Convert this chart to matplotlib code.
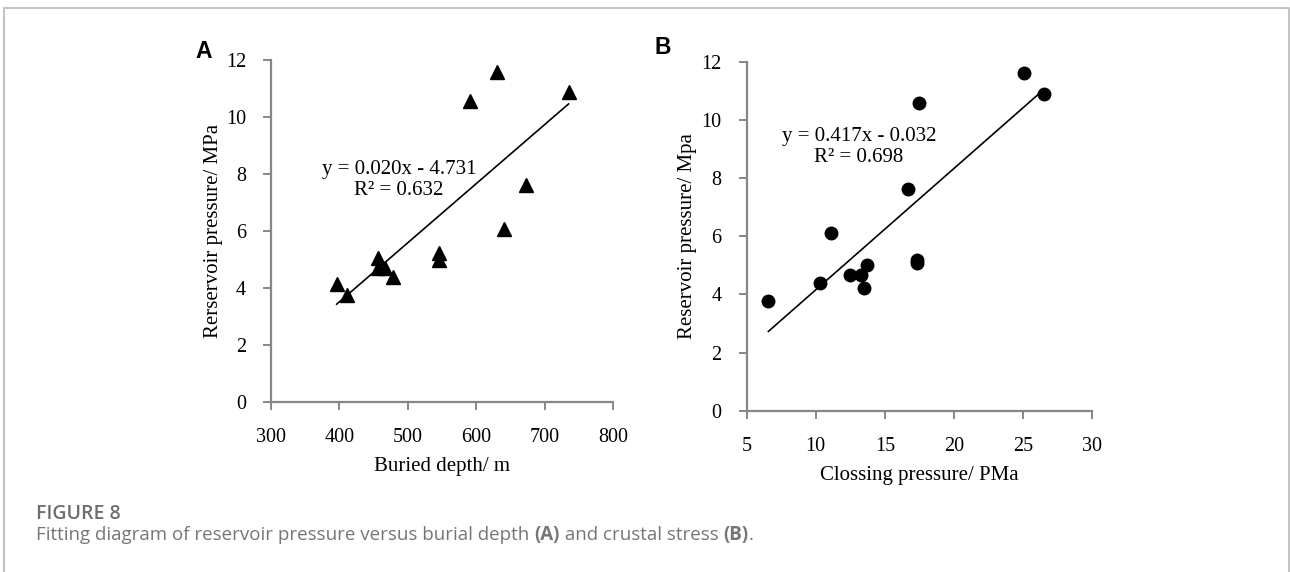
import matplotlib
matplotlib.use("Agg")
import matplotlib.pyplot as plt
import numpy as np

# panel A: buried depth vs reservoir pressure
depth = [396, 411.6, 457, 457, 467, 479, 545.6, 546, 591, 630, 640.6, 673, 735]
press_a = [4.15, 3.74, 5.03, 4.68, 4.68, 4.39, 5.21, 4.97, 10.56, 11.58, 6.08, 7.6, 10.88]

# panel B: closing pressure vs reservoir pressure
closing = [6.57, 10.3, 11.07, 12.47, 13.27, 13.48, 13.7, 16.68, 17.29, 17.29, 17.48, 25.07, 26.52]
press_b = [3.77, 4.38, 6.12, 4.67, 4.67, 4.21, 5.01, 7.61, 5.18, 5.09, 10.57, 11.6, 10.88]

xticks_a = [300, 400, 500, 600, 700, 800]
xticks_b = [5, 10, 15, 20, 25, 30]
yticks = [0, 2, 4, 6, 8, 10, 12]

serif = "Liberation Serif"
spine_col = "#878787"

fig = plt.figure(figsize=(12.9, 5.72), dpi=100)


def style(ax, xt, xlim):
    ax.set_xlim(xlim)
    ax.set_ylim(0, 12)
    ax.set_xticks(xt)
    ax.set_yticks(yticks)
    for s in ["top", "right"]:
        ax.spines[s].set_visible(False)
    for s in ["left", "bottom"]:
        ax.spines[s].set_color(spine_col)
        ax.spines[s].set_linewidth(1.6)
    ax.tick_params(direction="out", length=6, width=1.4, color=spine_col,
                   labelsize=14.5)
    ax.tick_params(axis="x", pad=13)
    ax.tick_params(axis="y", pad=12)
    for lab in ax.get_xticklabels() + ax.get_yticklabels():
        lab.set_fontfamily(serif)
    ax.patch.set_alpha(0)


axA = fig.add_axes([0.2101, 0.2977, 0.2651, 0.5974])
style(axA, xticks_a, (300, 800))
axA.plot(depth, press_a, "^", color="black", ms=10, clip_on=False)
ka, ba = np.polyfit(depth, press_a, 1)
xa = np.array([min(depth), max(depth)])
axA.plot(xa, ka * xa + ba, color="black", lw=1.2)
axA.set_xlabel("Buried depth/ m", family=serif, fontsize=15, labelpad=7)
axA.set_ylabel("Rerservoir pressure/ MPa", family=serif, fontsize=15, labelpad=2)
axA.text(0.374, 0.648, "y = 0.020x - 4.731\nR\u00b2 = 0.632", transform=axA.transAxes,
         ha="center", va="center", family=serif, fontsize=15, linespacing=1.12)

axB = fig.add_axes([0.5788, 0.2820, 0.2679, 0.6101])
style(axB, xticks_b, (5, 30))
axB.plot(closing, press_b, "o", color="black", ms=9, clip_on=False)
kb, bb = np.polyfit(closing, press_b, 1)
xb = np.array([min(closing), max(closing)])
axB.plot(xb, kb * xb + bb, color="black", lw=1.2)
axB.set_xlabel("Clossing pressure/ PMa", family=serif, fontsize=15, labelpad=7)
axB.set_ylabel("Reservoir pressure/ Mpa", family=serif, fontsize=15, labelpad=3)
axB.text(0.325, 0.756, "y = 0.417x - 0.032\nR\u00b2 = 0.698", transform=axB.transAxes,
         ha="center", va="center", family=serif, fontsize=15, linespacing=1.15)

fig.text(204 / 1290, 1 - 52 / 572, "A", family="Liberation Sans", weight="bold",
         fontsize=16.5, ha="center", va="center")
fig.text(663 / 1290, 1 - 48 / 572, "B", family="Liberation Sans", weight="bold",
         fontsize=16.5, ha="center", va="center")

# caption
fig.text(36 / 1290, 1 - 514 / 572, "FIGURE 8", family="Open Sans", weight="semibold",
         fontsize=14, color="#6e6e6e", va="center")
parts = [("Fitting diagram of reservoir pressure versus burial depth ", "normal"),
         ("(A)", "bold"), (" and crustal stress ", "normal"), ("(B)", "bold"), (".", "normal")]
renderer = fig.canvas.get_renderer()
x0 = 36 / 1290
for txt, w in parts:
    t = fig.text(x0, 1 - 535 / 572, txt, family="Open Sans", weight=w, fontsize=13.5,
                 color="#767676", va="center")
    x0 = t.get_window_extent(renderer).x1 / fig.bbox.width

# border around the figure
bc = "#c4c4c4"
L, T, R = 4 / 1290, 1 - 8 / 572, 1288.5 / 1290
fig.add_artist(plt.Line2D([L, L, R, R], [0, T, T, 0], color=bc, lw=1.5,
                          transform=fig.transFigure))

fig.savefig("out.png", dpi=100)
